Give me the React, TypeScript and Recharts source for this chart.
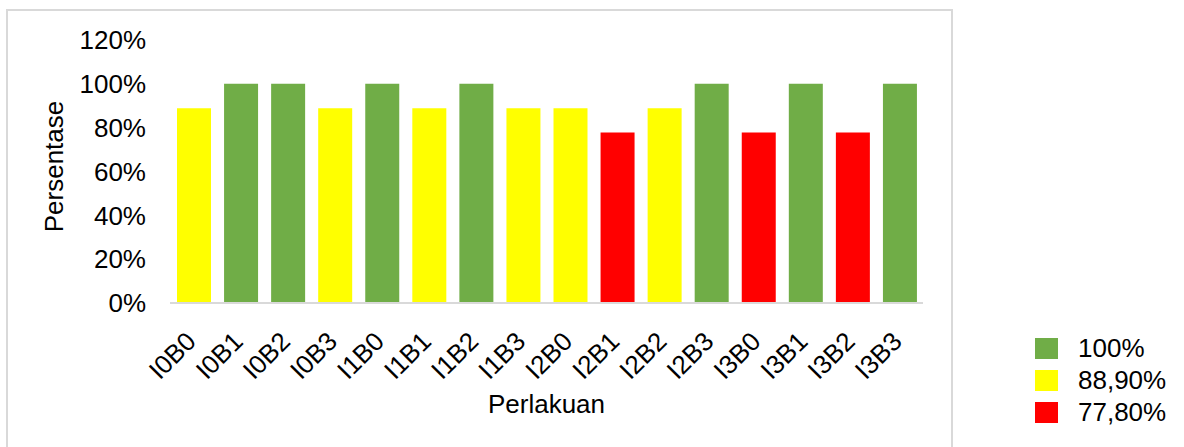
import React from "react";
import { BarChart, Bar, Cell, XAxis, YAxis, Legend, Label } from "recharts";

// Perlakuan (treatment) codes along the x axis
const categories = [
  "I0B0", "I0B1", "I0B2", "I0B3",
  "I1B0", "I1B1", "I1B2", "I1B3",
  "I2B0", "I2B1", "I2B2", "I2B3",
  "I3B0", "I3B1", "I3B2", "I3B3",
];

// Persentase per treatment (%)
const values = [
  88.9, 100, 100, 88.9,
  100, 88.9, 100, 88.9,
  88.9, 77.8, 88.9, 100,
  77.8, 100, 77.8, 100,
];

const yTicks = [0, 20, 40, 60, 80, 100, 120];

// legend groups: value -> colour
const legendValues = [100, 88.9, 77.8];
const legendLabels = ["100%", "88,90%", "77,80%"];
const legendColors = ["#70AD47", "#FFFF00", "#FF0000"];

const data = categories.map((name, i) => ({ name, value: values[i] }));

const colorFor = (v: number) => {
  const idx = legendValues.indexOf(v);
  return idx >= 0 ? legendColors[idx] : "#999";
};

const FONT = "'Liberation Sans', Arial, sans-serif";

const XTick = (props: any) => {
  const { x, y, payload } = props;
  const ax = x + 4;
  const ay = y + 38;
  return (
    <text
      x={ax}
      y={ay}
      transform={`rotate(-45, ${ax}, ${ay})`}
      textAnchor="end"
      fontSize={26}
      fontFamily={FONT}
      fill="#000"
    >
      {payload.value}
    </text>
  );
};

const YLabel = (props: any) => {
  const vb = props.viewBox || {};
  const cx = 63;
  const cy = (vb.y ?? 40) + (vb.height ?? 263) / 2 - 5;
  return (
    <text
      x={cx}
      y={cy}
      transform={`rotate(-90, ${cx}, ${cy})`}
      textAnchor="middle"
      fontSize={26}
      fontFamily={FONT}
      fill="#000"
    >
      Persentase
    </text>
  );
};

const renderLegend = () => (
  <div style={{ fontFamily: FONT, fontSize: 26, color: "#000" }}>
    {legendLabels.map((label, i) => (
      <div
        key={label}
        style={{ display: "flex", alignItems: "center", height: 32 }}
      >
        <span
          style={{
            display: "inline-block",
            width: 23,
            height: 21,
            background: legendColors[i],
            marginRight: 20,
          }}
        />
        <span style={{ lineHeight: "32px" }}>{label}</span>
      </div>
    ))}
  </div>
);

export default function App() {
  return (
    <div
      style={{
        position: "absolute",
        left: 0,
        top: 0,
        width: 1184,
        height: 447,
        overflow: "hidden",
        background: "#fff",
      }}
    >
      {/* chart frame */}
      <div
        style={{
          position: "absolute",
          left: 6,
          top: 9,
          width: 947,
          height: 470,
          border: "2px solid #d9d9d9",
          boxSizing: "border-box",
        }}
      />
      <div style={{ position: "absolute", left: 0, top: 0 }}>
        <BarChart
          width={1184}
          height={447}
          data={data}
          margin={{ top: 40, right: 261, bottom: 0, left: 0 }}
        >
          <XAxis
            dataKey="name"
            interval={0}
            height={144}
            tickLine={false}
            tickSize={0}
            axisLine={{ stroke: "#d9d9d9", strokeWidth: 2 }}
            tick={<XTick />}
          >
            <Label
              value="Perlakuan"
              position="insideBottom"
              offset={34}
              style={{ fontSize: 26, fontFamily: FONT, fill: "#000" }}
            />
          </XAxis>
          <YAxis
            width={170}
            domain={[0, 120]}
            ticks={yTicks}
            interval={0}
            axisLine={false}
            tickLine={false}
            tickSize={6}
            tickMargin={18}
            tickFormatter={(v: number) => `${v}%`}
            tick={{ fontSize: 26, fontFamily: FONT, fill: "#000" }}
          >
            <Label content={<YLabel />} />
          </YAxis>
          <Legend
            layout="vertical"
            align="center"
            verticalAlign="middle"
            wrapperStyle={{ left: 1035, top: 332, width: 149 }}
            content={renderLegend}
          />
          <Bar dataKey="value" barSize={34} isAnimationActive={false}>
            {data.map((d) => (
              <Cell key={d.name} fill={colorFor(d.value)} />
            ))}
          </Bar>
        </BarChart>
      </div>
    </div>
  );
}
